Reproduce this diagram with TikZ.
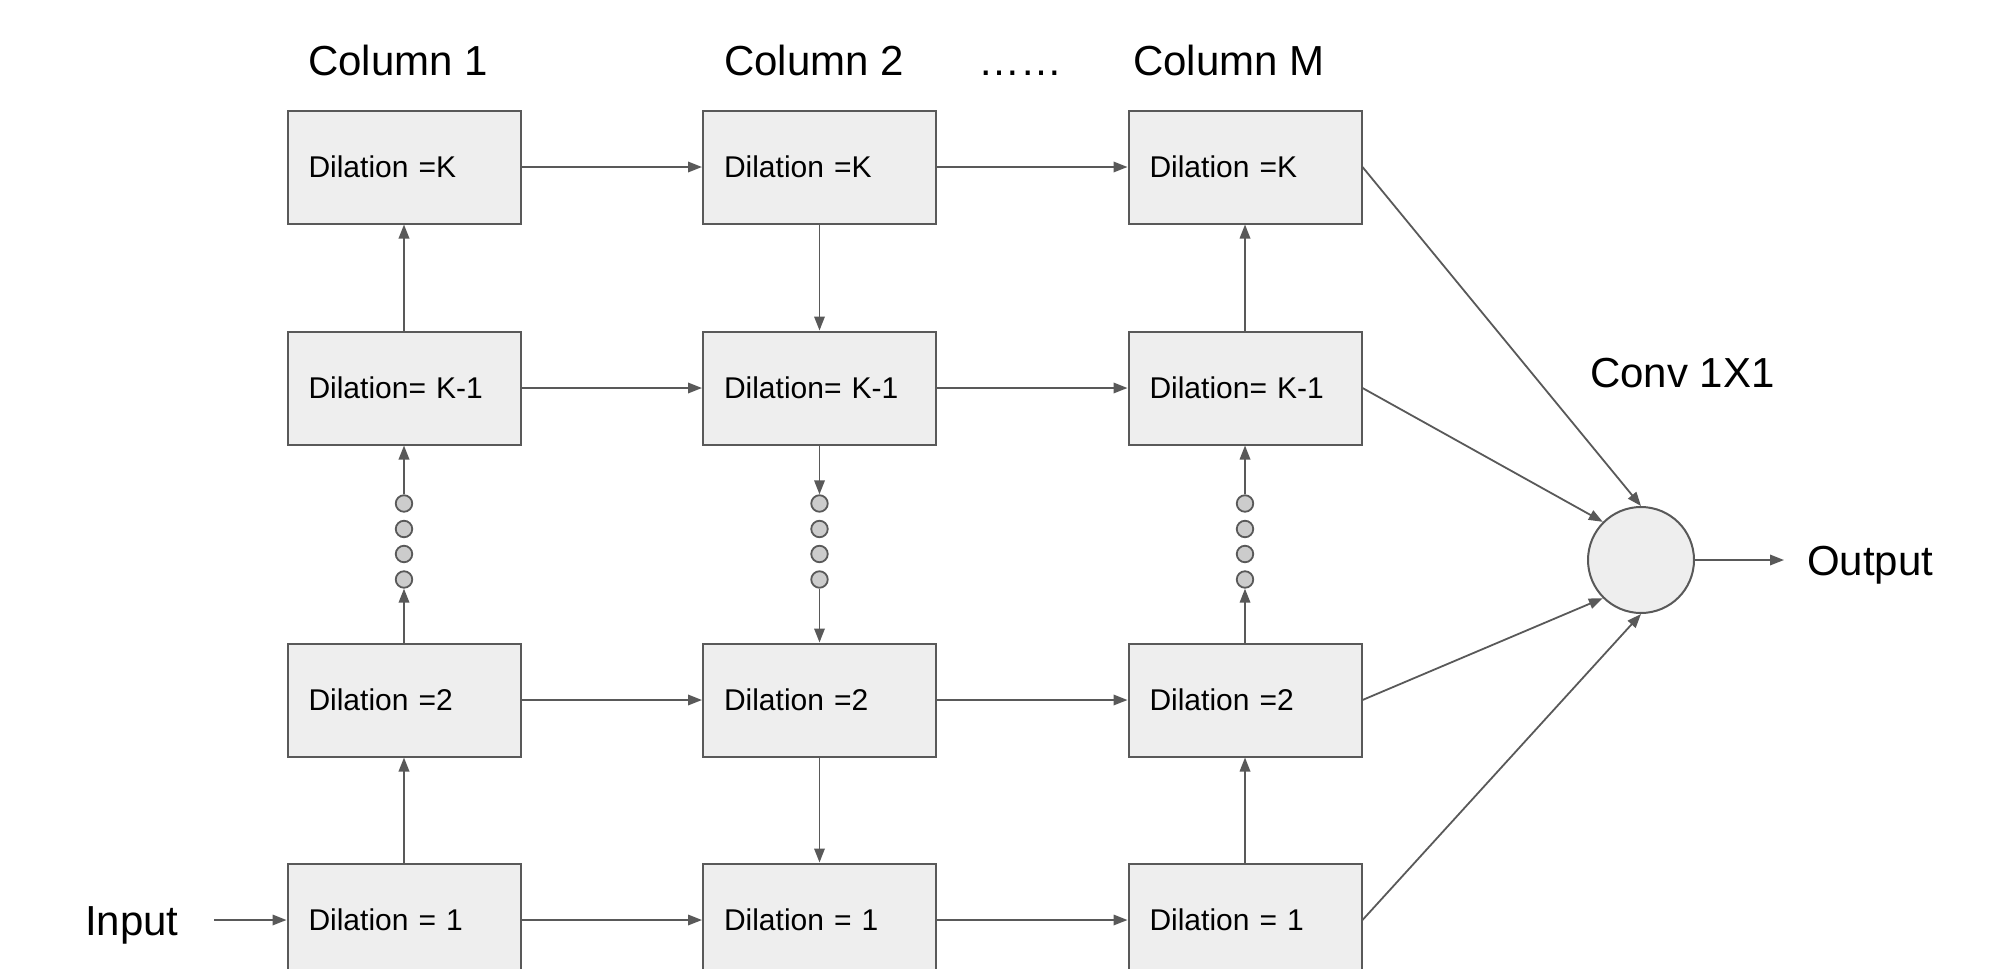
\documentclass[tikz,border=0pt]{standalone}
\usepackage{fontspec}
\setmainfont{Liberation Sans}
\usetikzlibrary{arrows.meta}
\definecolor{boxfill}{HTML}{EEEEEE}
\definecolor{linegray}{HTML}{595959}
\definecolor{dotfill}{HTML}{CCCCCC}
\tikzset{
  dilbox/.style={rectangle, draw=linegray, fill=boxfill, line width=2pt,
    minimum width=233pt, minimum height=113pt, text width=191pt, inner xsep=21pt,
    align=left, font=\fontsize{30}{35}\selectfont},
  dotnode/.style={circle, draw=linegray, fill=dotfill, line width=1.8pt,
    minimum size=16.5pt, inner sep=0pt},
  sumnode/.style={circle, draw=linegray, fill=boxfill, line width=2pt,
    minimum size=106pt, inner sep=0pt},
  title/.style={anchor=base west, inner sep=0pt, font=\fontsize{42}{50}\selectfont},
  conn/.style={draw=linegray, line width=1.8pt,
    -{Triangle[length=14pt,width=10.5pt]}, shorten >=0pt}
}
\begin{document}
\begin{tikzpicture}[x=1pt,y=-1pt]
\useasboundingbox (0,0) rectangle (2011,969);
% titles
\node[title] (t1) at (308,75) {Column 1};
\node[title] (t2) at (724,75) {Column 2};
\node[title] (tdots) at (978,75) {……};
\node[title] (tM) at (1133,75) {Column M};
\node[title] (tconv) at (1590,387) {Conv 1X1};
\node[title] (tin) at (85,935) {Input};
\node[title] (tout) at (1807,575) {Output};
% boxes
\foreach \c/\x in {1/404,2/819.5,3/1245}{
  \node[dilbox] (c\c rK) at (\x,167) {Dilation =K};
  \node[dilbox] (c\c rJ) at (\x,388) {Dilation= K-1};
  \node[dilbox] (c\c rB) at (\x,700) {Dilation =2};
  \node[dilbox] (c\c rA) at (\x,920) {Dilation = 1};
  \node[dotnode] (c\c d1) at (\x,503.5) {};
  \node[dotnode] (c\c d2) at (\x,529) {};
  \node[dotnode] (c\c d3) at (\x,554) {};
  \node[dotnode] (c\c d4) at (\x,579.5) {};
}
\node[sumnode] (sum) at (1641,560) {};
\coordinate (inarr) at (214,920);
\coordinate (outarr) at (1784,560);
% horizontal connectors
\foreach \r in {K,J,B,A}{
  \draw[conn] (c1r\r) -- (c2r\r);
  \draw[conn] (c2r\r) -- (c3r\r);
}
\draw[conn] (inarr) -- (c1rA);
% column 1 and 3 upward
\foreach \c in {1,3}{
  \draw[conn] (c\c rA) -- (c\c rB);
  \draw[conn] (c\c rB) -- (c\c d4);
  \draw[conn] (c\c d1) -- (c\c rJ);
  \draw[conn] (c\c rJ) -- (c\c rK);
}
% column 2 downward
\draw[conn] (c2rK) -- (c2rJ);
\draw[conn] (c2rJ) -- (c2d1);
\draw[conn] (c2d4) -- (c2rB);
\draw[conn] (c2rB) -- (c2rA);
% to sum
\draw[conn] (c3rK.east) -- (sum.north);
\draw[conn] (c3rJ.east) -- (sum.135);
\draw[conn] (c3rB.east) -- (sum.225);
\draw[conn] (c3rA.east) -- (sum.south);
\draw[conn] (sum.east) -- (outarr);
\end{tikzpicture}
\end{document}
